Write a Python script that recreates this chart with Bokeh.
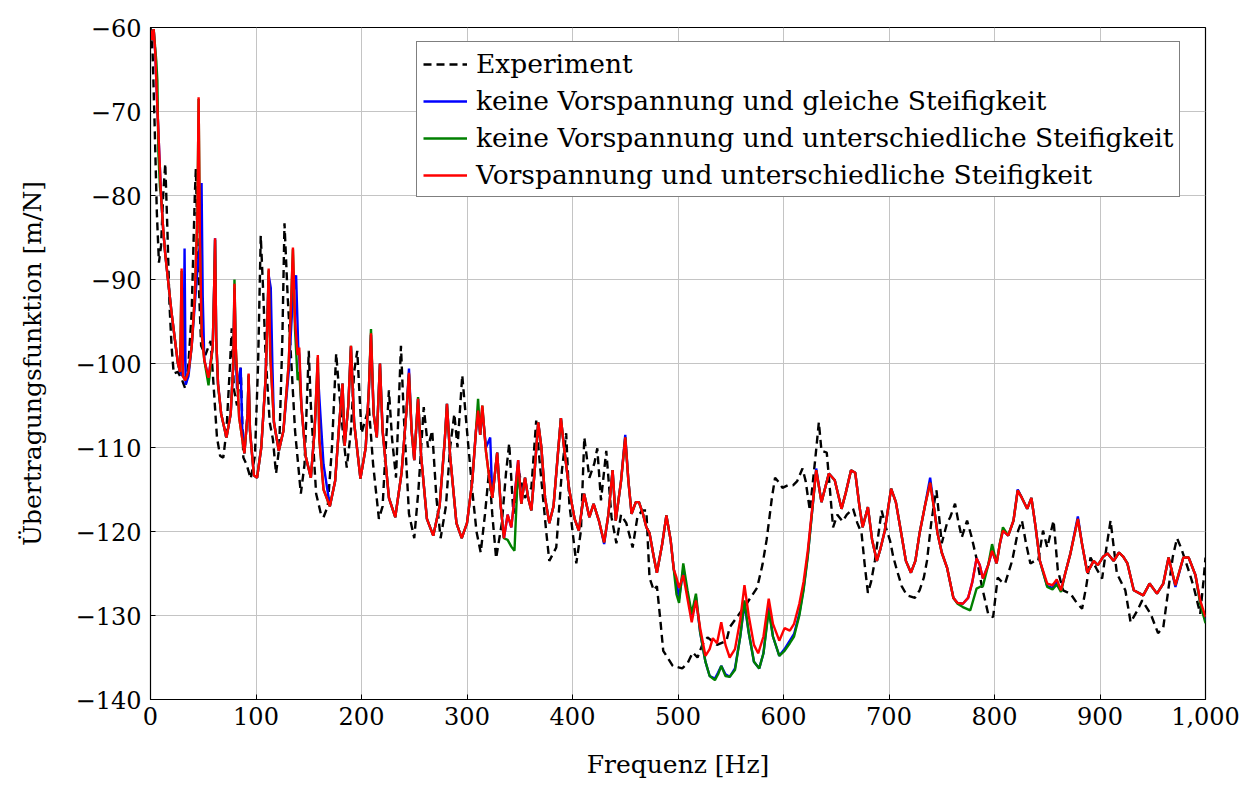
from bokeh.plotting import figure
from bokeh.models import Range1d, FixedTicker, Legend, LegendItem
from bokeh.embed import file_html
from bokeh.resources import INLINE

# ---------------- data ----------------
X_TICKS = [0, 100, 200, 300, 400, 500, 600, 700, 800, 900, 1000]
X_LABELS = ["0", "100", "200", "300", "400", "500", "600", "700", "800", "900", "1,000"]
Y_TICKS = [-140, -130, -120, -110, -100, -90, -80, -70, -60]
Y_LABELS = ["\u2212140", "\u2212130", "\u2212120", "\u2212110", "\u2212100", "\u221290", "\u221280", "\u221270", "\u221260"]

SERIES_NAMES = ["Experiment",
                "keine Vorspannung und gleiche Steifigkeit",
                "keine Vorspannung und unterschiedliche Steifigkeit",
                "Vorspannung und unterschiedliche Steifigkeit"]

EXP_F = [0, 2, 4, 6, 8, 10, 12, 14, 16, 18, 20, 22, 26, 30, 33, 36, 39, 42, 43, 45, 48, 52, 57, 60, 63, 66, 69, 72, 75, 77, 79, 82, 85.5, 88, 91, 95, 99, 102, 104.5, 107, 109, 113, 116, 119, 122, 125, 127, 130, 133, 137, 142.5, 146, 149, 150, 152, 157, 161.5, 164, 168, 172, 176, 179, 183, 186, 190, 193, 196, 200, 203, 207, 211, 216.5, 220, 223, 226, 229, 232.7, 235, 237.4, 240, 245, 250, 254, 259, 263, 267, 271, 275, 280, 284, 288, 291, 295.5, 300, 305, 309, 313, 317, 321, 324, 327.6, 333, 337, 340, 344, 349.5, 355, 361, 365.6, 369, 375, 378, 384.6, 390, 394, 397, 403.6, 408, 411.2, 416, 420.7, 423.5, 427, 432, 437, 441.6, 446, 451, 457, 461.5, 466, 470, 473, 477, 480, 483, 486, 495, 504, 509, 514, 518.5, 523, 528, 537, 546, 549, 557, 565, 575, 580, 584, 589, 592, 596, 599, 604, 609, 613, 618, 621, 625, 630, 633.5, 636, 641, 644, 647, 651, 656, 660, 666, 670, 674, 677, 680, 683, 686.6, 693, 697, 701, 704, 707.5, 712, 717, 724.6, 729, 733, 736, 740, 743.6, 745, 750, 755, 758, 762.6, 766, 769, 774, 778, 783.5, 788, 794, 798.7, 803, 807, 810, 816.7, 822.4, 826, 830, 834, 838, 841.4, 846, 850, 856, 860, 865, 872, 878, 883, 887, 891, 897, 902, 906, 910, 916, 924, 929, 935, 940, 948, 955, 960, 965, 969, 973, 977, 981, 985, 989, 995, 998, 1000]
EXP_V = [-60, -63, -72, -82, -88, -86, -80, -76.2, -84, -93, -98, -101.2, -101, -102, -103, -100, -94, -80, -76.8, -88, -97.9, -99, -97.3, -103, -108.8, -111, -111.2, -108, -101, -95.8, -103, -105, -100.5, -111.2, -112, -113.7, -111, -100, -84.8, -92, -98.8, -107, -109, -113.1, -110, -97, -83.3, -92, -98.8, -108, -115.5, -112, -102, -98.5, -105, -115.5, -117.9, -118.3, -117, -110, -98.8, -103.6, -109, -112.4, -108, -101, -98.5, -108.3, -107, -105.2, -112, -118.5, -117, -110, -103.2, -109, -113.6, -106, -97.9, -106, -117.9, -120.8, -115, -105.2, -110, -108, -116, -120.8, -117, -110, -106, -110, -101.4, -108, -115.1, -120, -122.5, -118, -112.7, -118, -123.2, -119, -113, -109.5, -117.9, -113.1, -116, -114.8, -106.8, -111.9, -119.9, -123.5, -121.9, -112.7, -108.3, -116.7, -123.8, -119.9, -108.8, -113.6, -111.9, -110.1, -116.3, -110.4, -118.3, -121.4, -118, -119, -121.9, -118.3, -117.5, -117.5, -125.5, -127, -126.5, -130.2, -134.2, -136, -136.3, -135.7, -134.4, -135, -133.5, -132.6, -133.5, -133, -131.4, -130, -128.6, -126.7, -124, -121, -116, -113.6, -114.2, -114.8, -114.5, -114.5, -114, -112.5, -114, -117.5, -111.5, -107, -110.4, -110.6, -115, -119.5, -118, -118.8, -118, -117.3, -119, -120.2, -124, -127.3, -126, -123.5, -117.5, -119.5, -121.1, -123, -124.6, -126.5, -127.6, -127.9, -127, -125.5, -123.5, -119, -116, -115.1, -121.4, -119, -118.3, -116.7, -119, -120.7, -118.7, -120.5, -123.5, -126.5, -129.8, -130.2, -125.5, -126, -126.2, -123.5, -119.9, -118.7, -121.5, -123.8, -123.5, -123.5, -119.9, -121.9, -118.7, -124.6, -127, -127.4, -128.5, -129.2, -126.5, -123.1, -124.5, -125.6, -122, -118.7, -125, -127, -130.8, -129.5, -128.2, -129.8, -132.1, -131.4, -126.7, -123, -120.8, -122, -123.5, -125, -126.7, -129.8, -126, -123.1]

RED_F = [0, 1.5, 3, 4.5, 6, 8, 10, 12, 14, 17, 20, 23, 26, 28, 29.5, 30.8, 33, 36, 39, 42, 44.5, 45.6, 46.8, 48.5, 51, 55, 59, 60.5, 61.2, 62.3, 64, 67, 72, 76, 78.5, 79.6, 80.8, 84, 89, 92, 93, 94.3, 98, 101, 105, 109, 111, 112, 113.5, 117, 121.6, 126, 131, 133.5, 135, 137, 139.5, 141, 143, 147, 152, 155.5, 158.6, 160, 164, 170, 175, 179, 182, 184, 187.5, 190, 193, 199, 204, 207, 209, 211.5, 214.5, 217.5, 220, 226, 232, 238, 243, 245, 247.5, 250, 253.6, 256.5, 262, 268, 274, 279, 281, 284, 290, 295, 300, 305, 308.5, 310.5, 312.5, 314.5, 318, 321, 324, 328.6, 332, 335, 338.5, 342, 345, 348.5, 351.5, 355, 358, 361, 364, 367.5, 370.5, 374, 378, 382, 386, 389, 392, 397, 402, 406, 411, 416, 420, 425, 430, 434, 438, 441, 446, 450, 453, 456, 460, 463, 467, 470, 473, 477, 480, 485, 489, 493, 496, 498.6, 501, 505, 509, 513, 517, 521, 526, 530, 533, 537, 541, 545, 549, 554, 559, 563, 567, 572, 576, 581, 586, 590, 596, 601, 606, 610, 615, 619, 623, 628, 631, 636, 643, 648.6, 655, 659, 664, 668, 672, 675, 680, 684, 688.5, 692, 696, 702, 706.5, 712, 716, 720.8, 725, 729, 734, 739, 743, 746, 750, 755, 761, 765, 770, 775, 779, 783, 786, 789, 794, 797.7, 802, 805, 808, 813, 818, 822, 826, 831, 835, 839, 843, 850, 855, 859, 863, 867, 872, 879, 883, 888, 894, 898, 903, 907, 913, 918, 922, 926, 932, 941, 947, 954, 960, 965, 971.5, 979, 984, 990.5, 995, 1000]
RED_V = [-60.3, -61.5, -60.2, -63, -68, -74, -80, -84, -87, -90.5, -94, -97, -100, -101, -88.7, -101.5, -102, -101, -98, -92, -82, -68.3, -85, -96.4, -99.6, -101.7, -98, -90, -85.1, -97, -102.4, -106, -108.8, -106, -100, -90.5, -98, -106.4, -110.7, -106, -101.2, -108, -113.3, -113.6, -110, -102, -94, -88.7, -99, -107, -110.4, -108, -100, -92, -86.2, -95, -99, -98.1, -105, -111, -113.6, -108, -99, -109, -115, -117, -114, -107, -102.4, -109.8, -105, -97.9, -107, -113.7, -110, -103, -96.4, -106, -108.8, -100, -108, -116, -118.3, -113, -105, -101.1, -108, -111.5, -104.2, -111, -118.5, -120.5, -117, -109, -104.8, -111, -119, -120.8, -119, -114, -108, -105.6, -108.5, -105, -110.5, -113.5, -116, -110.6, -117, -120.8, -118, -119.5, -116, -111.5, -116.7, -113.6, -116, -117.5, -113, -107, -110, -116, -119, -117, -111, -106.5, -110, -115.1, -118.5, -119.9, -115.5, -118.3, -116.7, -118.7, -121.3, -118, -112.7, -118.7, -114, -108.8, -114, -117.9, -116.5, -116.5, -118, -119.5, -120.2, -123, -124.9, -121.5, -118.1, -121, -124.5, -125.5, -126.7, -125.2, -128, -130.8, -128.2, -131.5, -134.8, -134, -132.7, -133.3, -130.8, -133.5, -135, -134, -130.5, -126.4, -130, -133.5, -134.5, -132.5, -128, -131, -133, -131.5, -131.8, -131, -128.6, -126, -122.3, -116.3, -112.7, -116.5, -113.1, -113.9, -117.3, -115.4, -112.7, -113, -117, -119.5, -117.1, -121, -123.5, -122, -119.9, -114.9, -116.5, -120.5, -123.5, -124.9, -123.5, -120.2, -117, -114.2, -117.5, -120.2, -122.5, -124.3, -127.9, -128.5, -128.6, -127.9, -126, -123.2, -124, -125.6, -124, -122.3, -123.8, -121.5, -119.9, -120.5, -118.7, -115.1, -116, -117.3, -116, -119.5, -123.5, -126.2, -126.4, -125.7, -127, -125, -122.6, -118.5, -121.5, -124.9, -123.5, -124, -123, -122.6, -123.5, -122.5, -123, -123.8, -127, -127.6, -126.2, -127.4, -126.2, -123.1, -126.4, -123.1, -123.1, -125.2, -128.2, -130.2]

BLUE_F = [0, 1.5, 3, 4.5, 6, 8, 10, 12, 14, 17, 20, 23, 26, 28, 30.5, 31.7, 32.3, 33.3, 36, 39, 42, 45, 47.5, 48.4, 49.5, 51, 55, 59, 60.5, 61.2, 62.3, 64, 67, 72, 76, 78.5, 79.6, 80.8, 82, 85.5, 87, 89, 92, 93, 94.3, 98, 101, 105, 109, 111, 112, 114, 115.5, 117, 121.6, 126, 131, 135, 138, 140, 141, 143, 147, 152, 155.5, 158.6, 161, 164, 170, 175, 179, 182, 184, 187.5, 190, 193, 199, 204, 207, 209, 211.5, 214.5, 217.5, 220, 226, 232, 238, 243, 245, 247.5, 250, 253.6, 256.5, 262, 268, 274, 279, 281, 284, 290, 295, 300, 305, 308.5, 310.5, 312.5, 314.5, 318, 322, 324, 328.6, 332, 335, 338.5, 342, 345, 348.5, 351.5, 355, 358, 361, 364, 367.5, 370.5, 374, 378, 382, 386, 389, 392, 397, 402, 406, 411, 416, 420, 425, 430, 434, 438, 441, 446, 450, 453, 456, 460, 463, 467, 470, 473, 477, 480, 485, 489, 493, 496, 498.6, 501, 505, 509, 513, 517, 521, 526, 530, 535, 538, 541, 545, 549, 554, 559, 563, 567, 572, 577, 581, 586, 590, 596, 601, 606, 610, 615, 619, 623, 628, 631, 636, 643, 648.6, 655, 659, 664, 668, 672, 675, 680, 684, 688.5, 692, 696, 702, 706.5, 712, 716, 720.8, 725, 729, 734, 739, 743, 746, 750, 755, 761, 765, 770, 775, 779, 783, 786, 789, 794, 797.7, 802, 805, 808, 813, 818, 822, 826, 831, 835, 839, 843, 850, 855, 859, 863, 867, 872, 879, 883, 888, 894, 898, 903, 907, 913, 918, 922, 926, 932, 941, 947, 954, 960, 965, 971.5, 979, 984, 990.5, 995, 1000]
BLUE_V = [-60.3, -61.5, -60.2, -63, -68, -74, -80, -84, -87, -90.5, -94, -97, -100, -101, -101.5, -95, -86.3, -102.5, -101.5, -98, -93, -88, -85, -78.5, -92, -99.6, -101.7, -98, -90, -85.1, -97, -102.4, -106, -108.8, -106, -100, -91, -99, -103, -100.5, -108, -110.7, -106, -101.5, -108, -113.3, -113.6, -110, -102, -94, -89.5, -91, -100, -107, -110.4, -108, -101, -92, -89.5, -98, -99, -105, -111, -113.6, -108, -101, -106, -112, -117, -114, -107, -102.4, -109.8, -105, -98, -107, -113.7, -110, -103, -96.6, -106, -108.8, -100, -108, -116, -118.3, -113, -105, -100.6, -108, -111.5, -104.2, -111, -118.5, -120.5, -117, -109, -104.8, -111, -119, -120.8, -119, -114, -108, -106, -108.5, -105.5, -110, -108.8, -116, -110.6, -117, -120.8, -118, -119.5, -116, -111.5, -116.7, -113.6, -116, -117.5, -113, -107, -110, -116, -119, -117, -111, -106.5, -110, -115.1, -118.5, -119.9, -115.5, -118.3, -116.7, -118.7, -121.5, -118, -112.7, -118.7, -114, -108.5, -114, -117.9, -116.5, -116.5, -118, -119.5, -120.2, -123, -124.9, -121.5, -118.1, -121, -124.5, -126, -128, -124.5, -127.5, -130, -127.8, -132, -135.5, -137.2, -137.5, -136.8, -136, -137, -137.3, -136.3, -132.5, -128.6, -132, -135.5, -136.3, -134.5, -129, -132.5, -134.8, -134, -133, -132.2, -129.8, -126.8, -122.8, -116.5, -112.5, -116.5, -113.1, -113.9, -117.3, -115.4, -112.7, -113, -117, -119.5, -117.1, -121, -123.5, -122, -119.9, -114.9, -116.5, -120.5, -123.5, -124.9, -123.5, -120.2, -117, -113.6, -117.5, -120.2, -122.5, -124.3, -127.9, -128.5, -128.6, -127.9, -126, -123.2, -124, -125.6, -124, -122.3, -123.8, -121.5, -119.9, -120.5, -118.7, -115, -116, -117.3, -116, -119.5, -123.5, -126.5, -126.7, -126, -127, -125, -122.6, -118.2, -121.5, -124.9, -123.5, -124, -123, -122.6, -123.5, -122.5, -123, -123.8, -127, -127.6, -126.2, -127.4, -126.2, -123.1, -126.6, -123.1, -123.1, -125.2, -128.4, -130.6]

GREEN_F = [0, 1.5, 3, 4.5, 5.5, 6.5, 7.5, 9, 10, 12, 14, 17, 20, 23, 26, 28, 29.5, 30.8, 33, 36, 39, 42, 44.5, 45.6, 46.8, 48.5, 51, 55, 59, 60.5, 61.2, 62.3, 64, 67, 72, 76, 78.5, 79.6, 80.8, 84, 89, 92, 93, 94.3, 98, 101, 105, 109, 111, 112, 113.5, 117, 121.6, 126, 131, 133.5, 135, 137, 139.5, 141, 143, 147, 152, 155.5, 158.6, 160, 164, 170, 175, 179, 182, 184, 187.5, 190, 193, 199, 204, 207, 209, 211.5, 214.5, 217.5, 220, 226, 232, 238, 243, 245, 247.5, 250, 253.6, 256.5, 262, 268, 274, 279, 281, 284, 290, 295, 300, 305, 308.5, 310.5, 312.5, 314.5, 318, 321, 324, 328.6, 332, 335, 338.5, 342, 345, 348.5, 351.5, 355, 358, 361, 364, 367.5, 370.5, 374, 378, 382, 386, 389, 392, 397, 402, 406, 411, 416, 420, 425, 430, 434, 438, 441, 446, 450, 453, 456, 460, 463, 467, 470, 473, 477, 480, 485, 489, 493, 496, 498.6, 501, 505, 509, 513, 517, 521, 526, 530, 535, 538, 541, 545, 549, 554, 559, 563, 567, 572, 577, 581, 586, 590, 596, 601, 606, 610, 615, 619, 623, 628, 631, 636, 643, 648.6, 655, 659, 664, 668, 672, 675, 680, 684, 688.5, 692, 696, 702, 706.5, 712, 716, 720.8, 725, 729, 734, 739, 743, 746, 750, 755, 761, 765, 770, 777, 783, 786, 789, 794, 797.7, 802, 805, 808, 813, 818, 822, 826, 831, 835, 839, 843, 850, 855, 859, 863, 867, 872, 879, 883, 888, 894, 898, 903, 907, 913, 918, 922, 926, 932, 941, 947, 954, 960, 965, 971.5, 979, 984, 990.5, 995, 1000]
GREEN_V = [-60.3, -61.5, -60.2, -62.5, -64, -66.3, -75, -79, -80, -84, -87, -90.5, -94, -97, -100, -101, -89, -101.5, -102, -101, -98, -92, -82, -68.5, -85, -96.4, -99.6, -102.6, -98, -90, -85.3, -97, -102.6, -106, -108.8, -106, -100, -90, -98, -106.4, -110.7, -106, -101.3, -108, -113.3, -113.6, -110, -102, -94, -88.9, -99, -107, -110.4, -108, -100, -92, -86.4, -96, -102, -101, -105, -111, -113.6, -108, -99.3, -109, -115, -117, -114, -107, -102.4, -109.8, -105, -97.9, -107, -113.7, -110, -103, -95.9, -106, -108.8, -100, -108, -116, -118.3, -113, -105, -101.3, -108, -111.5, -104, -111, -118.5, -120.5, -117, -109, -104.8, -111, -119, -120.8, -119, -114, -108, -104.2, -108.5, -105, -110.5, -113.5, -116, -110.6, -117, -120.8, -121, -121.8, -122.3, -112, -116.7, -113.6, -116, -117.5, -113, -107, -110, -116, -119, -117, -111, -106.5, -110, -115.1, -118.5, -119.9, -115.5, -118.3, -116.7, -118.7, -121.3, -118, -112.7, -118.7, -114, -108.8, -114, -117.9, -116.5, -116.5, -118, -119.5, -120.2, -123, -124.9, -121.5, -118.1, -121, -124.5, -127.5, -128.5, -123.8, -127, -129.8, -127.4, -132, -135.5, -137.2, -137.7, -137, -136, -137.2, -137.3, -136.5, -132.5, -128.2, -132, -135.5, -136.3, -134.5, -129.4, -132.5, -134.8, -134.2, -133.3, -132.5, -130, -127, -123, -116.5, -112.7, -116.5, -113.1, -113.9, -117.3, -115.4, -112.7, -113, -117, -119.5, -117.1, -121, -123.5, -122, -119.9, -114.9, -116.5, -120.5, -123.5, -124.9, -123.5, -120.2, -117, -114.2, -117.5, -120.2, -122.5, -124.3, -127.9, -128.6, -129, -129.4, -126.8, -126.6, -126.5, -124, -121.5, -123.8, -121.5, -119.5, -120.5, -118.7, -115.1, -116, -117.3, -116, -119.5, -123.5, -126.6, -126.9, -126.3, -127.2, -125, -122.6, -118.5, -121.5, -124.9, -123.5, -124, -123, -122.6, -123.5, -122.5, -123, -123.8, -127, -127.6, -126.2, -127.4, -126.2, -123.1, -126.4, -123.1, -123.1, -125.2, -128.6, -130.9]

# ---------------- figure ----------------
FONT = "DejaVu Serif"

p = figure(width=1242, height=788, output_backend="svg", toolbar_location=None,
           x_range=Range1d(0, 1000), y_range=Range1d(-140, -60),
           min_border_left=150, min_border_right=37, min_border_top=27, min_border_bottom=89,
           background_fill_color="white", border_fill_color="white")

p.outline_line_color = "black"
p.outline_line_width = 1.2

for ax in (p.xaxis[0], p.yaxis[0]):
    ax.major_tick_in = 5
    ax.major_tick_out = 0
    ax.minor_tick_in = 0
    ax.minor_tick_out = 0
    ax.axis_line_color = "black"
    ax.major_tick_line_color = "black"
    ax.major_label_text_font = FONT
    ax.major_label_text_font_size = "24px"
    ax.major_label_text_color = "black"
    ax.axis_label_text_font = FONT
    ax.axis_label_text_font_size = "25px"
    ax.axis_label_text_font_style = "normal"
    ax.axis_label_text_color = "black"

p.xaxis[0].ticker = FixedTicker(ticks=X_TICKS)
p.xaxis[0].major_label_overrides = {t: l for t, l in zip(X_TICKS, X_LABELS)}
p.yaxis[0].ticker = FixedTicker(ticks=Y_TICKS)
p.yaxis[0].major_label_overrides = {t: l for t, l in zip(Y_TICKS, Y_LABELS)}
p.xaxis[0].axis_label = "Frequenz [Hz]"
p.yaxis[0].axis_label = "\u00dcbertragungsfunktion [m/N]"
p.xaxis[0].major_label_standoff = 7
p.yaxis[0].major_label_standoff = 9
p.xaxis[0].axis_label_standoff = 22
p.yaxis[0].axis_label_standoff = 26

p.xgrid.ticker = FixedTicker(ticks=X_TICKS)
p.ygrid.ticker = FixedTicker(ticks=Y_TICKS)
p.grid.grid_line_color = "#c4c4c4"
p.grid.grid_line_width = 1

r_exp = p.line(EXP_F, EXP_V, line_color="black", line_width=2.4, line_dash="8 5")
r_blue = p.line(BLUE_F, BLUE_V, line_color="#0000ff", line_width=2.4)
r_green = p.line(GREEN_F, GREEN_V, line_color="#008000", line_width=2.4)
r_red = p.line(RED_F, RED_V, line_color="#ff0000", line_width=2.4)

legend = Legend(items=[LegendItem(label=SERIES_NAMES[0], renderers=[r_exp]),
                       LegendItem(label=SERIES_NAMES[1], renderers=[r_blue]),
                       LegendItem(label=SERIES_NAMES[2], renderers=[r_green]),
                       LegendItem(label=SERIES_NAMES[3], renderers=[r_red])],
                location=(266, 502))
legend.label_text_font = FONT
legend.label_text_font_size = "26.5px"
legend.label_text_color = "black"
legend.glyph_width = 44
legend.glyph_height = 30
legend.label_height = 30
legend.label_standoff = 9
legend.spacing = 6
legend.padding = 6
legend.margin = 0
legend.border_line_color = "black"
legend.border_line_width = 1
legend.background_fill_color = "white"
legend.background_fill_alpha = 1
p.add_layout(legend)

open("out.html", "w").write(file_html(p, INLINE))
